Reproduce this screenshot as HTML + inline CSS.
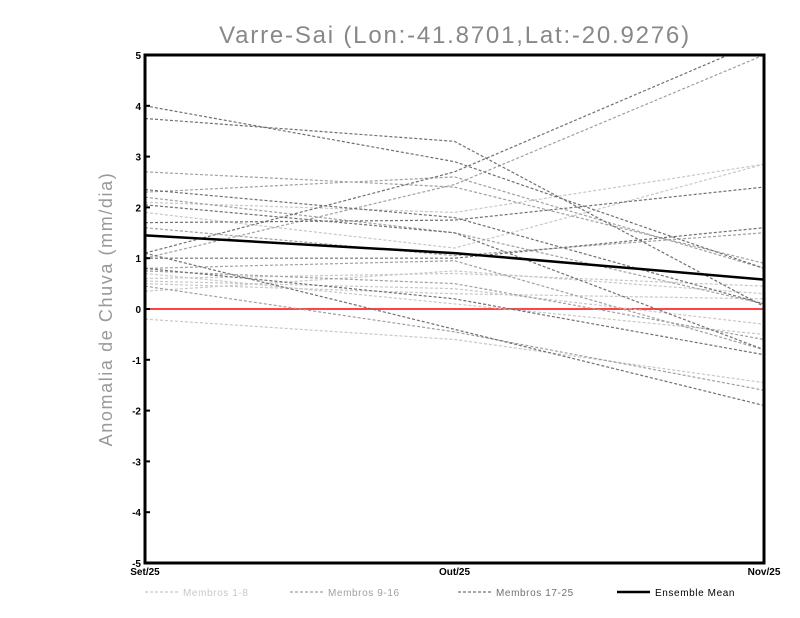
<!DOCTYPE html>
<html><head><meta charset="utf-8"><style>
body{margin:0;background:#fff;}
svg{display:block;font-family:"Liberation Sans",sans-serif;}
</style></head><body>
<svg id="chart" width="800" height="618">
<text x="455" y="43" text-anchor="middle" font-size="24" letter-spacing="1.8" fill="#888" font-weight="300">Varre-Sai (Lon:-41.8701,Lat:-20.9276)</text>
<text transform="translate(112,309) rotate(-90)" text-anchor="middle" font-size="18" letter-spacing="1.6" fill="#999">Anomalia de Chuva (mm/dia)</text>
<defs><clipPath id="clip"><rect x="145" y="55" width="619" height="508"/></clipPath></defs>
<g id="lines" clip-path="url(#clip)"></g>
<g id="axes"></g>
<g id="legend"></g>
</svg>
<script>
const categories=["Set/25","Out/25","Nov/25"];
const yTicks=[-5,-4,-3,-2,-1,0,1,2,3,4,5];
const light=[[2.1,1.9,2.85],[1.9,1.2,2.85],[0.6,0.7,0.45],[0.5,0.3,0.2],[-0.2,-0.6,-1.45],[0.7,0.1,-0.5],[0.35,0.75,0.3],[0.55,0.4,-0.3]];
const mid=[[2.7,2.4,0.9],[2.3,2.6,0.8],[1.0,2.45,5.0],[2.2,1.5,0.1],[0.75,0.5,-0.6],[0.45,-0.45,-1.6],[1.6,1.05,1.5],[0.8,0.95,-0.8]];
const dark=[[4.0,2.9,0.8],[3.75,3.3,0.05],[1.1,2.7,5.3],[2.35,1.8,0.1],[2.05,1.5,-0.8],[1.0,1.0,1.6],[1.1,-0.4,-1.9],[0.8,0.2,-0.9],[1.7,1.75,2.4]];
const mean=[1.45,1.1,0.58];
const X0=145,X1=764,Y0=563,Y1=55;
const xs=i=>X0+i*(X1-X0)/(categories.length-1);
const ys=v=>Y0-(v+5)*(Y0-Y1)/10;
const NS="http://www.w3.org/2000/svg";
function mk(t,a,p){const e=document.createElementNS(NS,t);for(const k in a)e.setAttribute(k,a[k]);p.appendChild(e);return e;}
const L=document.getElementById('lines'),A=document.getElementById('axes'),G=document.getElementById('legend');
function pts(s){return s.map((v,i)=>xs(i)+','+ys(v)).join(' ');}
const zero=mk('line',{x1:X0,x2:X1,y1:ys(0),y2:ys(0),stroke:'#f44',"stroke-width":2},L);


[[light,'#c8c8c8','members-1-8'],[mid,'#a0a0a0','members-9-16'],[dark,'#707070','members-17-25']].forEach(([g,c,n])=>{
 g.forEach((s,k)=>{const p=mk('polyline',{points:pts(s),fill:'none',stroke:c,"stroke-width":1.2,"stroke-dasharray":"3,2"},L);
 
 });
});
const m=mk('polyline',{points:pts(mean),fill:'none',stroke:'#000',"stroke-width":2.5},L);


const fr=mk('rect',{x:X0,y:Y1,width:X1-X0,height:Y0-Y1,fill:'none',stroke:'#000',"stroke-width":3},A);


yTicks.forEach(v=>{mk('line',{x1:X0,x2:X0+5,y1:ys(v),y2:ys(v),stroke:'#000',"stroke-width":2},A);
 const t=mk('text',{x:X0-4,y:ys(v)+4,"text-anchor":"end","font-size":10,"font-weight":"bold"},A);t.textContent=v;
 
 });
categories.forEach((c,i)=>{const t=mk('text',{x:xs(i),y:Y0+12,"text-anchor":"middle","font-size":10,"font-weight":"bold"},A);t.textContent=c;
 
 });
[['Membros 1-8','#c8c8c8',145,1.2,'3,2'],['Membros 9-16','#a0a0a0',290,1.2,'3,2'],['Membros 17-25','#707070',458,1.2,'3,2'],['Ensemble Mean','#000',617,2.5,'none']].forEach(([lab,c,x,w,d])=>{
 const g=mk('g',{},G);
 
 
 mk('line',{x1:x,x2:x+33,y1:592,y2:592,stroke:c,"stroke-width":w,"stroke-dasharray":d},g);
 const t=mk('text',{x:x+38,y:596,"font-size":10,"letter-spacing":0.6,fill:lab==='Ensemble Mean'?'#000':c},g);t.textContent=lab;
});
</script>
</body></html>
